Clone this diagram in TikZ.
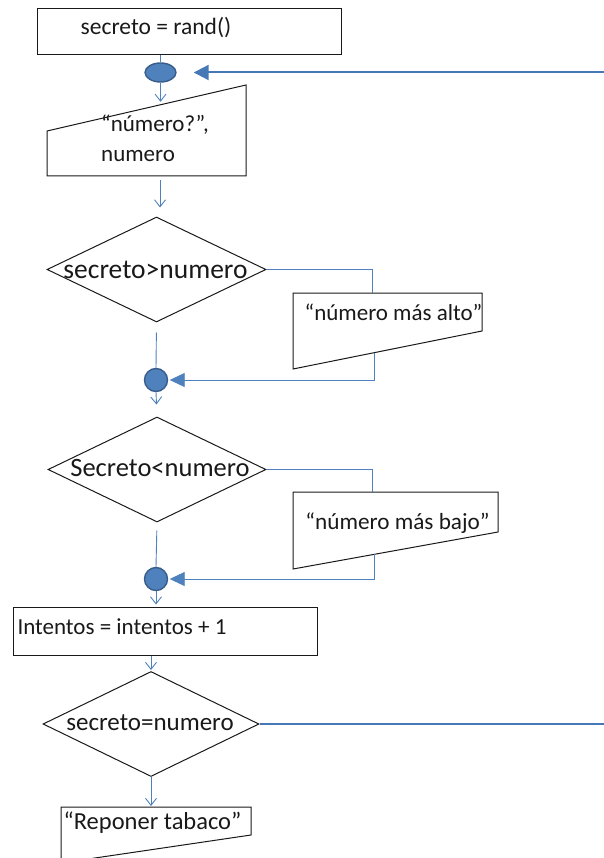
\documentclass[tikz,border=0pt]{standalone}
\usepackage{fontspec}
\setmainfont{Carlito}
\usetikzlibrary{arrows.meta,shapes.geometric}

\definecolor{flowblue}{RGB}{79,129,189}
\definecolor{loopblue}{RGB}{70,120,182}
\definecolor{dotedge}{RGB}{56,93,138}
\definecolor{ink}{RGB}{25,25,25}

\tikzset{
  procbox/.style={draw=ink, line width=1pt, rectangle, inner sep=0pt},
  decision/.style={draw=ink, line width=1pt, diamond, inner sep=0pt},
  iobox/.style={draw=ink, line width=1pt, line join=miter},
  junction/.style={fill=flowblue, draw=dotedge, line width=1.4pt, inner sep=0pt},
  conn/.style={draw=flowblue, line width=0.9pt},
  flowarrow/.style={conn, -{Straight Barb[length=7pt,width=11pt]}},
  joinarrow/.style={conn, -{Triangle[length=15pt,width=14pt]}},
  loopline/.style={draw=loopblue, line width=2pt},
  txt/.style={text=ink, inner sep=0pt, font=\fontsize{23}{30}\selectfont},
}

\begin{document}
\begin{tikzpicture}[x=1pt,y=-1pt]
\useasboundingbox (0,0) rectangle (604,858);
\clip (0,0) rectangle (604,858);

% --- start: secret number
\node[procbox, minimum width=304pt, minimum height=46pt] (init) at (189,32) {};
\node[txt, font=\fontsize{23.5}{30}\selectfont] (initT) at (156,28) {secreto = rand()};

% loop entry point
\node[junction, ellipse, minimum width=31pt, minimum height=19pt] (j0) at (160.5,72.5) {};

% --- manual input of the guess
\coordinate (inTL) at (47,131);
\coordinate (inTR) at (246,85);
\coordinate (inBR) at (246,176);
\coordinate (inBL) at (47,176);
\draw[iobox] (inTL) -- (inTR) -- (inBR) -- (inBL) -- cycle;
\node[txt, align=left, anchor=west] (inT) at (101,138) {“número?”,\\numero};
\coordinate (inIn) at (160.5,104.8);
\coordinate (inOut) at (160,176);

% --- first comparison
\node[decision, minimum width=219pt, minimum height=105pt] (d1) at (156.5,269.5) {};
\node[txt, font=\fontsize{27.5}{30}\selectfont] (d1T) at (155.5,270) {secreto>numero};

\coordinate (o1TL) at (293,293);
\coordinate (o1TR) at (482,293);
\coordinate (o1BR) at (482,331);
\coordinate (o1BL) at (293,369);
\draw[iobox] (o1TL) -- (o1TR) -- (o1BR) -- (o1BL) -- cycle;
\node[txt] (o1T) at (393.5,312) {“número más alto”};
\coordinate (o1In) at (372,293);
\coordinate (o1Out) at (374,352.7);

\node[junction, circle, minimum size=23pt] (c1) at (156,380) {};

% --- second comparison
\node[decision, minimum width=218pt, minimum height=105pt] (d2) at (157,469.5) {};
\node[txt, font=\fontsize{26.5}{30}\selectfont] (d2T) at (160,468) {Secreto<numero};

\coordinate (o2TL) at (293,492);
\coordinate (o2TR) at (498,492);
\coordinate (o2BR) at (498,532);
\coordinate (o2BL) at (293,569);
\draw[iobox] (o2TL) -- (o2TR) -- (o2BR) -- (o2BL) -- cycle;
\node[txt, font=\fontsize{23.2}{30}\selectfont] (o2T) at (397.5,523) {“número más bajo”};
\coordinate (o2In) at (372,492);
\coordinate (o2Out) at (374,554.4);

\node[junction, circle, minimum size=23pt] (c2) at (156,579) {};

% --- counter update
\node[procbox, minimum width=304pt, minimum height=48pt] (incr) at (165,631) {};
\node[txt] (incrT) at (122,627) {Intentos = intentos + 1};

% --- final test
\node[decision, minimum width=216pt, minimum height=105pt] (d3) at (151,724) {};
\node[txt, font=\fontsize{25}{30}\selectfont] (d3T) at (150,723) {secreto=numero};
\coordinate (exitR) at (604,724);
\coordinate (loopR) at (604,72.5);

\coordinate (o3TL) at (61,807);
\coordinate (o3TR) at (251,807);
\coordinate (o3BR) at (251,835);
\coordinate (o3BL) at (61,863);
\draw[iobox] (o3TL) -- (o3TR) -- (o3BR) -- (o3BL) -- cycle;
\node[txt, font=\fontsize{24.5}{30}\selectfont] (o3T) at (152.5,823) {“Reponer tabaco”};
\coordinate (o3In) at (151,807);

% --- connectors
\draw[conn] (init.south -| j0) -- (j0.north);
\draw[loopline, -{Triangle[length=15pt,width=15pt]}, shorten >=17pt] (loopR) -- (j0.east);
\draw[flowarrow, shorten >=3pt] (j0.south) -- (inIn);
\draw[flowarrow, shorten <=4pt, shorten >=9pt] (inOut) -- (d1.north -| inOut);

\draw[conn] (d1.east) -| (o1In);
\draw[joinarrow, shorten >=1.5pt] (o1Out) |- (c1.east);
\draw[conn, shorten <=10pt] (d1.south) -- (c1.north);
\draw[flowarrow, shorten >=12pt] (c1.south) -- (d2.north);

\draw[conn] (d2.east) -| (o2In);
\draw[joinarrow, shorten >=1.5pt] (o2Out) |- (c2.east);
\draw[conn, shorten <=8pt] (d2.south) -- (c2.north);
\draw[flowarrow, shorten >=2pt] (c2.south) -- (incr.north -| c2);

\draw[flowarrow, shorten >=1pt] (incr.south -| d3) -- (d3.north);
\draw[loopline] (d3.east) -- (exitR);
\draw[flowarrow, shorten >=1pt] (d3.south) -- (o3In);
\end{tikzpicture}
\end{document}
